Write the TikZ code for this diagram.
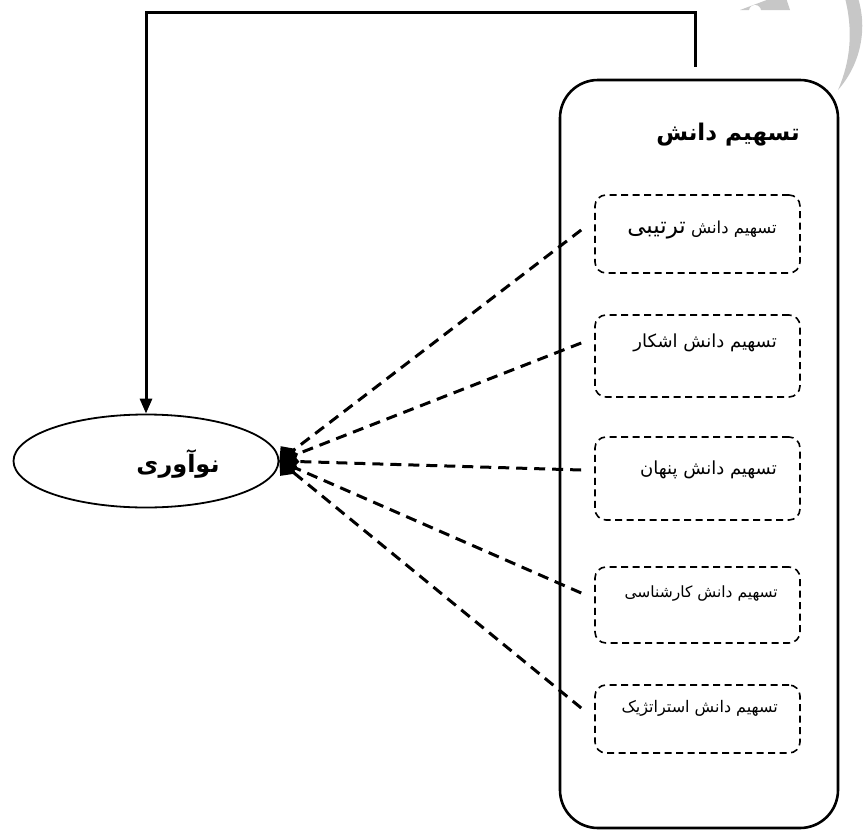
\documentclass[tikz,border=0pt]{standalone}
\usepackage{fontspec}
\usetikzlibrary{arrows.meta,shapes.geometric}
\TeXXeTstate=1
\newfontfamily\arabicfont[Script=Arabic]{DejaVu Sans}
\begin{document}
\begin{tikzpicture}[x=1pt,y=-1pt,
  mainline/.style={line width=3pt},
  conn/.style={mainline,-{Triangle[length=15pt,width=12pt]}},
  dconn/.style={line width=3pt,dash pattern=on 11pt off 7pt,-{Diamond[length=20pt,width=22pt]}},
  outerbox/.style={draw,line width=2.6pt,rounded corners=38pt,minimum width=278pt,minimum height=748pt,inner sep=0pt},
  innerbox/.style={draw,line width=1.6pt,dash pattern=on 7pt off 4.5pt,rounded corners=11pt,minimum width=205pt,inner sep=0pt},
  btext/.style={anchor=east,inner sep=0pt,font=\arabicfont\fontsize{18}{21}\selectfont},
  ttext/.style={anchor=east,inner sep=0pt,font=\arabicfont\bfseries\fontsize{23}{27}\selectfont},
  ellip/.style={draw,ellipse,line width=1.8pt,minimum width=265pt,minimum height=93pt,inner sep=0pt},
  wmark/.style={fill=black!22,draw=none}
]
\useasboundingbox (0,0) rectangle (863,833);
% watermark fragment
\begin{scope}
\clip (0,0) rectangle (863,833);
\fill[wmark] (740,10) -- (772,-2) -- (786,-2) -- (790,10) -- cycle;
\fill[white] (755,11) circle (6);
\fill[wmark] (845,-2) .. controls (853,30) and (851,60) .. (838,90) .. controls (860,65) and (868,30) .. (858,-2) -- cycle;
\end{scope}

\node[outerbox] (outer) at (699,454) {};
\node[ttext] (title) at (800,135) {\beginR تسهیم دانش\endR};

\node[innerbox,minimum height=78pt] (b1) at (697.5,234) {};
\node[innerbox,minimum height=82pt] (b2) at (697.5,356) {};
\node[innerbox,minimum height=83pt] (b3) at (697.5,478.5) {};
\node[innerbox,minimum height=76pt] (b4) at (697.5,605) {};
\node[innerbox,minimum height=68pt] (b5) at (697.5,719) {};

\node[btext,font=\arabicfont\fontsize{16.5}{20}\selectfont] (t1) at (777,230) {\beginR تسهیم دانش {\fontsize{23}{27}\selectfont ترتیبی}\endR};
\node[btext] (t2) at (777,343) {\beginR تسهیم دانش اشکار\endR};
\node[btext] (t3) at (777,470) {\beginR تسهیم دانش پنهان\endR};
\node[btext,font=\arabicfont\fontsize{15.5}{19}\selectfont] (t4) at (778,593) {\beginR تسهیم دانش کارشناسی\endR};
\node[btext,font=\arabicfont\fontsize{16}{19}\selectfont] (t5) at (778,708) {\beginR تسهیم دانش استراتژیک\endR};

\node[ellip] (inno) at (146,461) {};
\node[inner sep=0pt,font=\arabicfont\bfseries\fontsize{24}{28}\selectfont] (innolabel) at (178,464) {\beginR نوآوری\endR};

\coordinate (topy) at (0,12);
\draw[conn] ([xshift=-4pt,yshift=12pt]outer.north) |- (topy -| inno.north) -- (inno.north);

\foreach \i in {1,...,5}{
  \draw[dconn] ([xshift=-13pt]b\i.west |- t\i) -- (inno.east);
}
\end{tikzpicture}
\end{document}
